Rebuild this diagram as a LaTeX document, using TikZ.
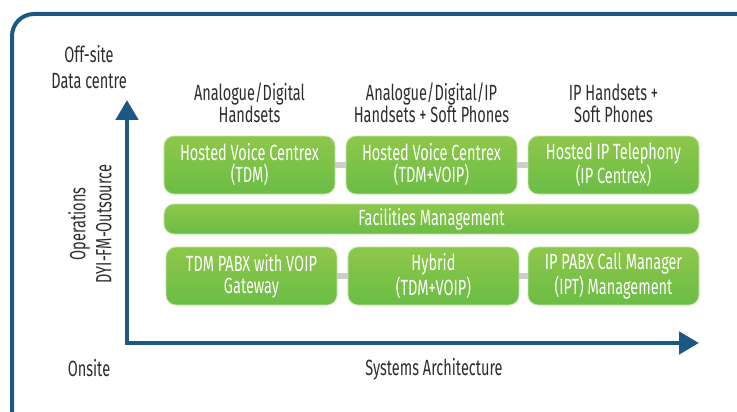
\documentclass[tikz,border=0pt]{standalone}
\usepackage{fontspec}
\setmainfont{Fira Sans}[FakeStretch=0.66]
\usetikzlibrary{arrows.meta,backgrounds}
\definecolor{frameblue}{RGB}{28,88,132}
\definecolor{greentop}{RGB}{142,199,74}
\definecolor{greenbot}{RGB}{106,189,69}
\definecolor{greenedge}{RGB}{196,228,170}
\definecolor{linkgray}{RGB}{205,205,205}
\definecolor{labelgray}{RGB}{45,45,45}
\tikzset{
  box/.style={rounded corners=10pt, top color=greentop, bottom color=greenbot,
    draw=greenedge, line width=0.8pt, text=white, align=center, inner sep=0pt,
    minimum width=171pt, minimum height=58pt,
    font=\fontsize{22}{22}\selectfont},
  widebox/.style={box, minimum width=535pt, minimum height=30pt},
  link/.style={draw=linkgray, line width=6pt},
  caption/.style={text=labelgray, align=center, inner sep=0pt,
    font=\fontsize{22}{22}\selectfont},
  axislabel/.style={caption, font=\fontsize{22}{26}\selectfont},
  axis/.style={draw=frameblue, line width=4.8pt, line join=miter,
    {Triangle[width=22pt,length=20pt]}-{Triangle[width=22pt,length=20pt]}},
}
\begin{document}
\begin{tikzpicture}[x=1pt,y=-1pt]
\useasboundingbox (0,0) rectangle (737,412);
\clip (0,0) rectangle (737,412);

% outer frame, running off the right and bottom edges
\draw[frameblue, line width=4pt, rounded corners=22pt] (12,14) rectangle (770,440);

% platform boxes
\node[box] (hvc)  at (249.5,165) {Hosted Voice Centrex\\(TDM)};
\node[box] (hvcv) at (431.5,165) {Hosted Voice Centrex\\(TDM+VOIP)};
\node[box] (hipt) at (613.5,165) {Hosted IP Telephony\\(IP Centrex)};
\node[widebox] (fm) at (431.5,219) {Facilities Management};
\node[box] (tdm)  at (251.5,276) {TDM PABX with VOIP\\Gateway};
\node[box] (hyb)  at (433.5,276) {Hybrid\\(TDM+VOIP)};
\node[box] (ipx)  at (613.5,276) {IP PABX Call Manager\\(IPT) Management};

% grey links between neighbouring boxes
\begin{scope}[on background layer]
  \draw[link] (hvc) -- (hvcv);
  \draw[link] (hvcv) -- (hipt);
  \draw[link] (tdm) -- (hyb);
  \draw[link] (hyb) -- (ipx);
\end{scope}

% column headings
\node[caption] (h1) at (249.5,103) {Analogue/Digital\\Handsets};
\node[caption] (h2) at (431.5,103) {Analogue/Digital/IP\\Handsets + Soft Phones};
\node[caption] (h3) at (613.5,103) {IP Handsets +\\Soft Phones};

% axes
\coordinate (ytip) at (127,100);
\coordinate (origin) at (127,343);
\coordinate (xtip) at (699,343);
\draw[axis] (ytip) -- (origin) -- (xtip);

% axis labels
\node[axislabel] (top) at (89,67) {Off-site\\Data centre};
\node[axislabel, rotate=90] (ops) at (90,224) {Operations\\DYI-FM-Outsource};
\node[axislabel] (onsite) at (89,368) {Onsite};
\node[axislabel] (sysarch) at (434,369) {Systems Architecture};
\end{tikzpicture}
\end{document}
